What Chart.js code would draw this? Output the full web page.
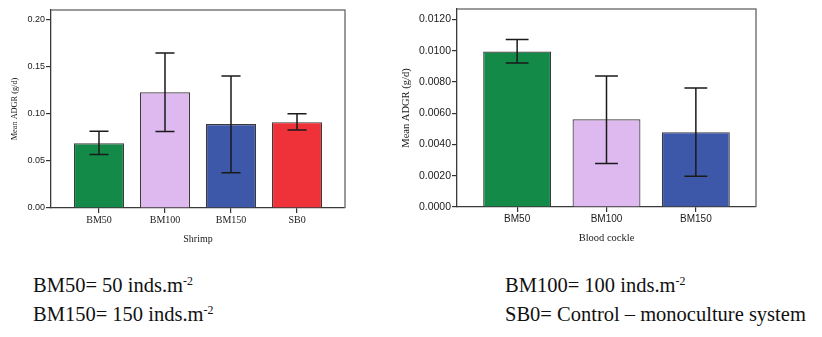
<!DOCTYPE html>
<html>
<head>
<meta charset="utf-8">
<script src="https://cdn.jsdelivr.net/npm/chart.js@4/dist/chart.umd.min.js"></script>
<style>
  html, body { margin: 0; padding: 0; background: #fff; }
  body { width: 822px; height: 337px; position: relative; overflow: hidden; }
  .panel { position: absolute; top: 0; }
  .note {
    position: absolute;
    font-family: "Liberation Serif", "Times New Roman", serif;
    font-size: 20.5px;
    line-height: 1;
    color: #111;
    white-space: nowrap;
  }
  .note sup { font-size: 0.58em; vertical-align: 0.55em; line-height: 0; }
</style>
</head>
<body>
<div class="panel" style="left:0;width:360px;height:250px"><canvas id="shrimp" width="360" height="250"></canvas></div>
<div class="panel" style="left:390px;width:380px;height:250px"><canvas id="cockle" width="380" height="250"></canvas></div>

<div class="note" style="left:33px;top:275px">BM50= 50 inds.m<sup>-2</sup></div>
<div class="note" style="left:33px;top:304px">BM150= 150 inds.m<sup>-2</sup></div>
<div class="note" style="left:505px;top:275px">BM100= 100 inds.m<sup>-2</sup></div>
<div class="note" style="left:505px;top:304px">SB0= Control – monoculture system</div>

<script>
/* ---------- data ---------- */
const shrimpLabels = ['BM50', 'BM100', 'BM150', 'SB0'];
const shrimpMean   = [0.0688, 0.1229, 0.0892, 0.0912];
const shrimpLow    = [0.0567, 0.0812, 0.0375, 0.0828];
const shrimpHigh   = [0.0815, 0.1646, 0.1402, 0.1002];
const shrimpColors = ['#138a48', '#ddb9f0', '#3e58a9', '#ef3139'];
const shrimpTicks  = { min: 0, max: 0.2103, step: 0.05, digits: 2 };

const cockleLabels = ['BM50', 'BM100', 'BM150'];
const cockleMean   = [0.00995, 0.00561, 0.00479];
const cockleLow    = [0.00922, 0.00278, 0.00197];
const cockleHigh   = [0.01072, 0.00839, 0.00762];
const cockleColors = ['#138a48', '#ddb9f0', '#3e58a9'];
const cockleTicks  = { min: 0, max: 0.01267, step: 0.002, digits: 4 };

/* ---------- plugins ---------- */
const errorBars = {
  id: 'errorBars',
  afterDatasetsDraw(chart, args, opts) {
    const { ctx, scales: { y } } = chart;
    const meta = chart.getDatasetMeta(0);
    ctx.save();
    ctx.strokeStyle = '#1a1a1a';
    ctx.lineWidth = 1.5;
    meta.data.forEach((bar, i) => {
      const top = y.getPixelForValue(opts.high[i]);
      const bot = y.getPixelForValue(opts.low[i]);
      const half = bar.width * opts.cap;
      ctx.beginPath();
      ctx.moveTo(bar.x, top); ctx.lineTo(bar.x, bot);
      ctx.moveTo(bar.x - half, top); ctx.lineTo(bar.x + half, top);
      ctx.moveTo(bar.x - half, bot); ctx.lineTo(bar.x + half, bot);
      ctx.stroke();
    });
    ctx.restore();
  }
};

const frame = {
  id: 'frame',
  afterDraw(chart) {
    const { ctx, chartArea: a } = chart;
    ctx.save();
    ctx.strokeStyle = '#7a7a7a';
    ctx.lineWidth = 1.5;
    ctx.beginPath();
    ctx.moveTo(a.left, a.top);
    ctx.lineTo(a.right, a.top);
    ctx.lineTo(a.right, a.bottom);
    ctx.stroke();
    ctx.restore();
  }
};

/* ---------- builder ---------- */
function makeChart(id, cfg) {
  const n = cfg.labels.length;
  return new Chart(document.getElementById(id), {
    type: 'bar',
    data: {
      datasets: [{
        data: cfg.mean.map((v, i) => ({ x: i, y: v })),
        backgroundColor: cfg.colors,
        borderColor: '#3a3a3a',
        borderWidth: 1.2,
        categoryPercentage: 1,
        barPercentage: 0.76
      }]
    },
    options: {
      responsive: false,
      animation: false,
      layout: { padding: cfg.padding },
      plugins: {
        legend: { display: false },
        tooltip: { enabled: false },
        errorBars: { low: cfg.low, high: cfg.high, cap: cfg.cap }
      },
      scales: {
        x: {
          type: 'linear',
          offset: false,
          min: -cfg.edge,
          max: n - 1 + cfg.edge,
          afterBuildTicks: s => { s.ticks = cfg.labels.map((_, i) => ({ value: i })); },
          afterFit: s => { s.height = cfg.xHeight; },
          ticks: {
            autoSkip: false,
            maxRotation: 0,
            padding: 1,
            color: '#1a1a1a',
            font: cfg.xFont,
            callback: v => cfg.labels[v] ?? ''
          },
          grid: { offset: false, drawOnChartArea: false, drawTicks: true, tickLength: 5, color: '#333', lineWidth: 1.2 },
          border: { display: true, color: '#3a3a3a', width: 1.3 },
          title: {
            display: true,
            text: cfg.xTitle,
            color: '#1a1a1a',
            font: cfg.xTitleFont,
            padding: { top: 0, bottom: 5 }
          }
        },
        y: {
          min: cfg.ticks.min,
          max: cfg.ticks.max,
          afterFit: s => { s.width = cfg.yWidth; },
          ticks: {
            stepSize: cfg.ticks.step,
            includeBounds: false,
            padding: 1,
            color: '#1a1a1a',
            font: cfg.yFont,
            callback: v => Number(v).toFixed(cfg.ticks.digits)
          },
          grid: { drawOnChartArea: false, drawTicks: true, tickLength: 5, color: '#333', lineWidth: 1.2 },
          border: { display: true, color: '#3a3a3a', width: 1.3 },
          title: {
            display: true,
            text: 'Mean ADGR (g/d)',
            color: '#1a1a1a',
            font: cfg.yTitleFont,
            padding: { top: cfg.yTitlePad, bottom: 0 }
          }
        }
      }
    },
    plugins: [errorBars, frame]
  });
}

makeChart('shrimp', {
  labels: shrimpLabels, mean: shrimpMean, low: shrimpLow, high: shrimpHigh,
  colors: shrimpColors, ticks: shrimpTicks,
  edge: 0.727, cap: 0.19,
  padding: { top: 10, right: 15, bottom: 0, left: 0 },
  xHeight: 42, yWidth: 51,
  xTitle: 'Shrimp',
  xFont: { family: 'Liberation Serif', size: 10 },
  xTitleFont: { family: 'Liberation Serif', size: 10 },
  yFont: { family: 'Liberation Sans', size: 9 },
  yTitleFont: { family: 'Liberation Serif', size: 8.3 },
  yTitlePad: 10
});

makeChart('cockle', {
  labels: cockleLabels, mean: cockleMean, low: cockleLow, high: cockleHigh,
  colors: cockleColors, ticks: cockleTicks,
  edge: 0.673, cap: 0.168,
  padding: { top: 9, right: 14, bottom: 0, left: 0 },
  xHeight: 43, yWidth: 67,
  xTitle: 'Blood cockle',
  xFont: { family: 'Liberation Sans', size: 10 },
  xTitleFont: { family: 'Liberation Serif', size: 10.5 },
  yFont: { family: 'Liberation Sans', size: 10.5 },
  yTitleFont: { family: 'Liberation Serif', size: 10.5 },
  yTitlePad: 9.7
});
</script>
</body>
</html>
